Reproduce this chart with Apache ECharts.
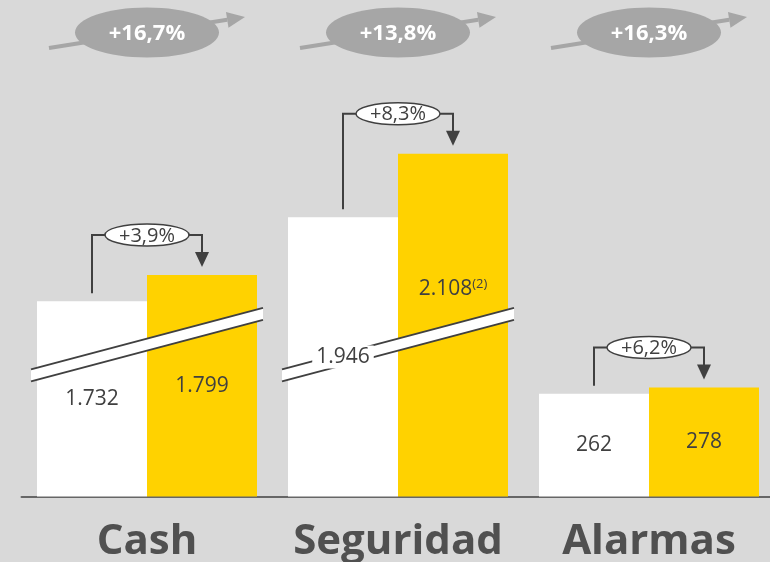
<!DOCTYPE html>
<html>
<head>
<meta charset="utf-8">
<script src="https://cdn.jsdelivr.net/npm/echarts@6/dist/echarts.min.js"></script>
<style>
  html, body { margin: 0; padding: 0; background: #d9d9d9; }
  #chart { width: 770px; height: 562px; }
</style>
</head>
<body>
<div id="chart"></div>
<script>
const categories = ['Cash', 'Seguridad', 'Alarmas'];
const prevValues = [1732, 1946, 262];
const currValues = [1799, 2108, 278];
const currNotes = ['', '(2)', ''];
const changeLabels = ['+3,9%', '+8,3%', '+6,2%'];
const totalLabels = ['+16,7%', '+13,8%', '+16,3%'];

// axis break (scale cut) shown as the white band across the tall bars
const BREAK_START = 300;
const BREAK_END = 1534;

const BAR_W = 110;
const DARK = '#404040';
const FONT = '"Open Sans", "DejaVu Sans", sans-serif';

const chart = echarts.init(document.getElementById('chart'));

function fmt(v) {
  return String(v).replace(/\B(?=(\d{3})+(?!\d))/g, '.');
}

const rows = categories.map((c, i) => [i, prevValues[i], currValues[i]]);

// brackets with the % change between the two bars
function renderChange(params, api) {
  const i = api.value(0);
  const pPrev = api.coord([i, api.value(1)]);
  const pCurr = api.coord([i, api.value(2)]);
  const cx = api.coord([i, 0])[0];
  const xPrev = cx - BAR_W / 2;
  const xCurr = cx + BAR_W / 2;
  const yTop = Math.min(pPrev[1], pCurr[1]) - 40;
  const tip = pCurr[1] - 8;
  return {
    type: 'group',
    children: [
      {
        type: 'polyline',
        shape: { points: [[xPrev, pPrev[1] - 8], [xPrev, yTop], [xCurr, yTop], [xCurr, tip - 14]] },
        style: { stroke: DARK, lineWidth: 2, fill: null }
      },
      {
        type: 'polygon',
        shape: { points: [[xCurr - 7, tip - 15], [xCurr + 7, tip - 15], [xCurr, tip]] },
        style: { fill: DARK }
      },
      {
        type: 'ellipse',
        shape: { cx: cx, cy: yTop, rx: 42, ry: 11 },
        style: { fill: '#ffffff', stroke: DARK, lineWidth: 1.5 }
      },
      {
        type: 'text',
        style: {
          text: changeLabels[i], x: cx, y: yTop + 1,
          align: 'center', verticalAlign: 'middle',
          fontSize: 20, fontFamily: FONT, fill: DARK
        }
      }
    ]
  };
}

// grey badges with arrows at the top
function renderTotal(params, api) {
  const i = api.value(0);
  const cx = api.coord([i, 0])[0];
  const x0 = cx - 98, y0 = 48, x1 = cx + 98, y1 = 17;
  const len = Math.hypot(x1 - x0, y1 - y0);
  const ux = (x1 - x0) / len, uy = (y1 - y0) / len;
  const bx = x1 - ux * 18, by = y1 - uy * 18;
  return {
    type: 'group',
    children: [
      {
        type: 'line',
        shape: { x1: x0, y1: y0, x2: bx, y2: by },
        style: { stroke: '#a6a6a6', lineWidth: 4 }
      },
      {
        type: 'polygon',
        shape: { points: [[x1, y1], [bx - uy * 8, by + ux * 8], [bx + uy * 8, by - ux * 8]] },
        style: { fill: '#a6a6a6' }
      },
      {
        type: 'ellipse',
        shape: { cx: cx, cy: 32.5, rx: 72, ry: 25 },
        style: { fill: '#a6a6a6' }
      },
      {
        type: 'text',
        style: {
          text: totalLabels[i], x: cx, y: 34,
          align: 'center', verticalAlign: 'middle',
          fontSize: 22, fontWeight: 'bold', fontFamily: FONT, fill: '#ffffff'
        }
      }
    ]
  };
}

// diagonal band marking the cut on the tall bars
function renderBreak(params, api) {
  const i = api.value(0);
  if (Math.max(api.value(1), api.value(2)) < BREAK_END) return null;
  const cx = api.coord([i, 0])[0];
  const yb = api.coord([i, BREAK_START])[1];
  const xl = cx - BAR_W - 6, xr = cx + BAR_W + 6;
  const yl = yb - 3.5, yr = yb - 65;
  const h = 6;
  return {
    type: 'group',
    children: [
      {
        type: 'polygon',
        z2: 1,
        shape: { points: [[xl, yl - h], [xr, yr - h], [xr, yr + h], [xl, yl + h]] },
        style: { fill: '#ffffff' }
      },
      {
        type: 'line',
        z2: 1,
        shape: { x1: xl, y1: yl - h, x2: xr, y2: yr - h },
        style: { stroke: DARK, lineWidth: 2 }
      },
      {
        type: 'line',
        z2: 1,
        shape: { x1: xl, y1: yl + h, x2: xr, y2: yr + h },
        style: { stroke: DARK, lineWidth: 2 }
      }
    ]
  };
}

const option = {
  backgroundColor: '#d9d9d9',
  animation: false,
  grid: { left: 21.5, width: 753, top: 0, bottom: 65.5, outerBoundsMode: 'none' },
  xAxis: {
    type: 'category',
    data: categories,
    axisLine: { lineStyle: { color: '#666666', width: 2 } },
    axisTick: { show: false },
    axisLabel: {
      interval: 0,
      margin: 25,
      fontSize: 42,
      fontWeight: 'bold',
      fontFamily: FONT,
      color: '#505050'
    }
  },
  yAxis: {
    type: 'value',
    show: false,
    min: 0,
    max: 2500,
    splitLine: { show: false },
    breaks: [{ start: BREAK_START, end: BREAK_END, gap: 0 }],
    breakArea: { show: false }
  },
  series: [
    {
      type: 'bar',
      name: 'prev',
      barWidth: BAR_W,
      barGap: '0%',
      itemStyle: { color: '#ffffff' },
      label: {
        show: true,
        position: 'inside',
        formatter: p => fmt(p.value),
        fontSize: 21,
        fontFamily: FONT,
        color: DARK,
        backgroundColor: '#ffffff',
        padding: [1, 4]
      },
      data: prevValues
    },
    {
      type: 'bar',
      name: 'curr',
      barWidth: BAR_W,
      itemStyle: { color: '#ffd200' },
      label: {
        show: true,
        position: 'inside',
        formatter: p => '{v|' + fmt(p.value) + '}' + (currNotes[p.dataIndex] ? '{s|' + currNotes[p.dataIndex] + '}' : ''),
        rich: {
          v: { fontSize: 21, fontFamily: FONT, color: DARK },
          s: { fontSize: 13, fontFamily: FONT, color: DARK, lineHeight: 13, padding: [0, 0, 10, 0] }
        }
      },
      data: currValues.map((v, i) => currNotes[i] ? { value: v, label: { offset: [0, -36] } } : v)
    },
    {
      type: 'custom',
      name: 'break',
      renderItem: renderBreak,
      encode: { x: 0, y: [1, 2] },
      data: rows
    },
    {
      type: 'custom',
      name: 'change',
      renderItem: renderChange,
      encode: { x: 0, y: [1, 2] },
      data: rows
    },
    {
      type: 'custom',
      name: 'total',
      renderItem: renderTotal,
      encode: { x: 0, y: [1, 2] },
      data: rows
    }
  ]
};

chart.setOption(option);
</script>
</body>
</html>
